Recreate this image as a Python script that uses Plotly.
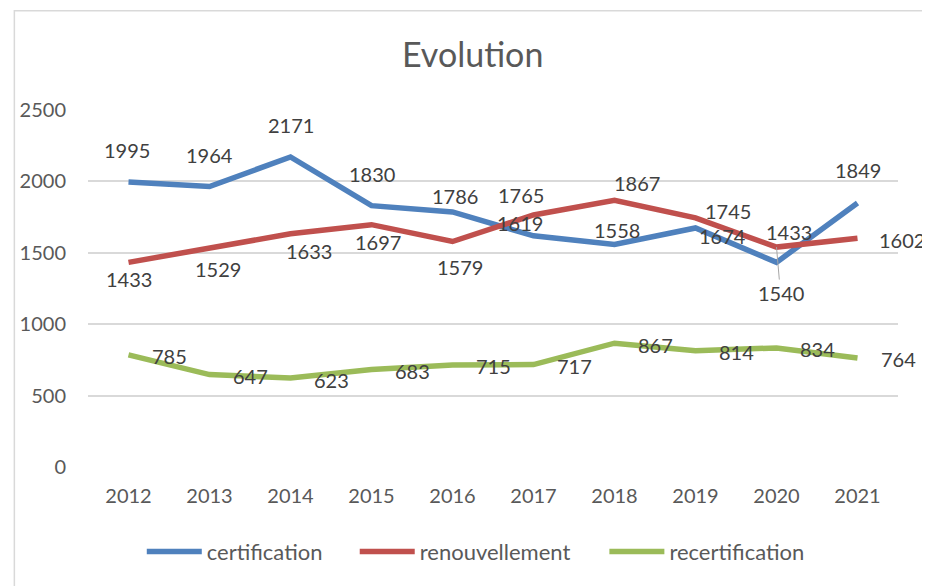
import plotly.graph_objects as go

# data
years = ["2012", "2013", "2014", "2015", "2016", "2017", "2018", "2019", "2020", "2021"]
certification = [1995, 1964, 2171, 1830, 1786, 1619, 1558, 1674, 1433, 1849]
renouvellement = [1433, 1529, 1633, 1697, 1579, 1765, 1867, 1745, 1540, 1602]
recertification = [785, 647, 623, 683, 715, 717, 867, 814, 834, 764]

# label offsets in pixels (dx right, dy down), roughly as Excel placed them
cert_offsets = [(-2, -32), (0, -32), (0, -32), (0, -32), (2, -16),
                (-14, -13), (2, -15), (27, 8), (12, -30), (0, -33)]
renouv_offsets = [(0, 17), (8, 20), (18, 17), (6, 17), (7, 25),
                  (-13, -20), (22, -17), (32, -7), (4, 46), (44, 2)]
recert_offsets = [(41, 1.5)] * 10

series = [
    ("certification", certification, "#4F81BD", cert_offsets, "legend", 0.0664),
    ("renouvellement", renouvellement, "#C0504D", renouv_offsets, "legend2", 0.3293),
    ("recertification", recertification, "#9BBB59", recert_offsets, "legend3", 0.6375),
]

FONT = "Lato, Carlito, Calibri, sans-serif"

fig = go.Figure()
annotations = []
legends = {}
for name, values, color, offsets, leg, legx in series:
    fig.add_trace(go.Scatter(x=years, y=values, mode="lines", name=name, legend=leg,
                             line=dict(color=color, width=5.5)))
    legends[leg] = dict(orientation="h", x=legx, xanchor="left", y=-0.237,
                        yanchor="middle", itemwidth=55,
                        font=dict(family=FONT, size=22, color="#595959"),
                        bgcolor="rgba(0,0,0,0)")
    # category index is used as annotation x (strings get read as numbers)
    for i, (v, (dx, dy)) in enumerate(zip(values, offsets)):
        a = dict(x=i, y=v, xref="x", yref="y", text=str(v),
                 font=dict(family=FONT, size=20, color="#404040"))
        if dy > 40:
            # leader line for the displaced label
            a.update(showarrow=True, arrowhead=0, arrowwidth=1,
                     arrowcolor="#a6a6a6", ax=dx, ay=dy, standoff=0)
        else:
            a.update(showarrow=False, xshift=dx, yshift=-dy)
        annotations.append(a)

# page has an 8px body margin, so the figure is 8px smaller than the window
fig.update_layout(
    width=922, height=578,
    margin=dict(l=76, r=32, t=102, b=119),
    paper_bgcolor="white", plot_bgcolor="white",
    title=dict(text="Evolution", x=0.504, xanchor="center", y=0.9187, yanchor="middle",
               font=dict(family=FONT, size=34, color="#595959")),
    font=dict(family=FONT, color="#595959"),
    showlegend=True,
    annotations=annotations,
    shapes=[dict(type="rect", xref="paper", yref="paper",
                 x0=-0.0909, x1=1.2, y0=1.278, y1=-0.6,
                 line=dict(color="#d9d9d9", width=1.5), layer="below")],
    **legends,
)

fig.update_xaxes(type="category", range=[-0.5, len(years) - 0.5], autorange=False,
                 showgrid=False, zeroline=False, showline=False,
                 ticks="", ticklabelstandoff=15,
                 tickfont=dict(family=FONT, size=20, color="#595959"))
fig.update_yaxes(range=[0, 2500], autorange=False, dtick=500, showgrid=True,
                 gridcolor="#d9d9d9", gridwidth=1.5, zeroline=False, showline=False,
                 ticks="", ticklabelstandoff=21,
                 tickfont=dict(family=FONT, size=20, color="#595959"))

fig.write_html("out.html")
